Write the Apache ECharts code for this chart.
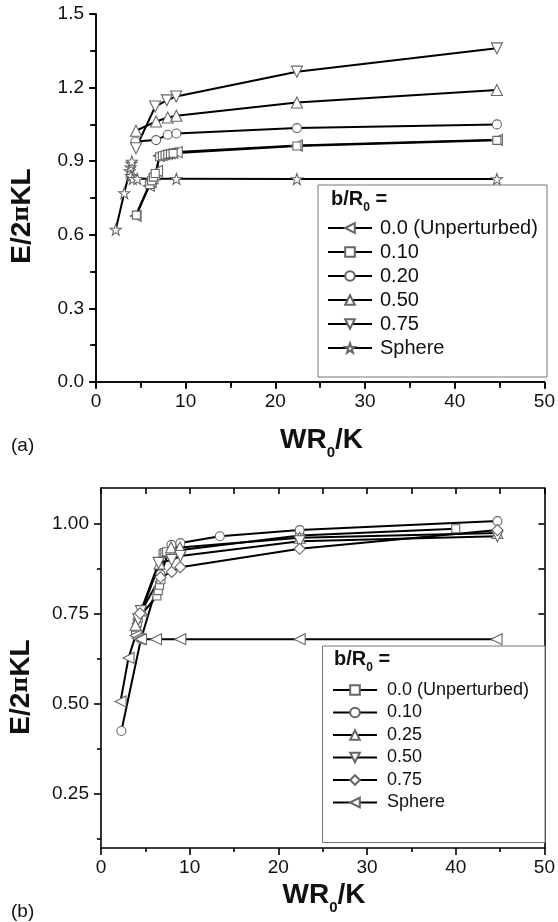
<!DOCTYPE html>
<html><head><meta charset="utf-8">
<script src="https://cdn.jsdelivr.net/npm/echarts@6/dist/echarts.min.js"></script>
<style>html,body{margin:0;padding:0;background:#fff}#c{width:558px;height:922px}</style>
</head><body><div id="c"></div>
<script>
// ---------- Panel (a) data: [WR0/K, E/2piKL] ----------
var aUnperturbed = [[4.42,0.677],[5.9,0.800],[6.1,0.815],[6.3,0.830],[6.5,0.845],[6.8,0.860],[7.0,0.922],[7.3,0.925],[7.6,0.928],[7.9,0.930],[8.2,0.932],[8.5,0.934],[9.0,0.937],[22.4,0.964],[44.7,0.987]];
var aB010 = [[4.5,0.680],[6.0,0.805],[6.2,0.820],[6.4,0.835],[6.6,0.850],[7.1,0.918],[7.4,0.922],[7.7,0.925],[8.0,0.928],[8.3,0.930],[8.6,0.932],[22.4,0.962],[44.7,0.985]];
var aB020 = [[4.39,0.980],[6.7,0.986],[8.0,1.008],[8.96,1.013],[22.4,1.035],[44.7,1.050]];
var aB050 = [[4.46,1.024],[6.7,1.062],[8.0,1.078],[8.96,1.085],[22.4,1.139],[44.7,1.190]];
var aB075 = [[4.46,0.953],[6.6,1.123],[7.9,1.148],[8.94,1.164],[22.4,1.265],[44.7,1.360]];
var aSphere = [[2.2,0.621],[3.15,0.770],[3.75,0.860],[3.85,0.875],[3.95,0.890],[4.0,0.899],[3.9,0.840],[4.1,0.828],[4.6,0.828],[8.96,0.828],[22.4,0.827],[44.7,0.827]];
var aLabels = ['0.0 (Unperturbed)','0.10','0.20','0.50','0.75','Sphere'];

// ---------- Panel (b) data ----------
var bUnperturbed = [[3.9,0.700],[4.0,0.713],[4.1,0.726],[4.2,0.738],[6.3,0.800],[6.45,0.815],[6.6,0.830],[6.75,0.845],[7.0,0.918],[7.2,0.921],[7.4,0.923],[22.4,0.968],[40.0,0.987]];
var bB010 = [[2.3,0.425],[4.5,0.680],[6.7,0.860],[7.95,0.942],[8.95,0.947],[13.4,0.966],[22.4,0.983],[44.7,1.008]];
var bB025 = [[3.9,0.720],[4.6,0.760],[6.6,0.890],[7.9,0.935],[8.9,0.935],[22.4,0.962],[44.7,0.975]];
var bB050 = [[4.2,0.735],[4.5,0.758],[6.5,0.892],[7.97,0.900],[8.94,0.911],[22.4,0.952],[44.7,0.966]];
var bB075 = [[4.4,0.752],[6.7,0.852],[7.97,0.867],[8.94,0.880],[22.4,0.931],[44.7,0.983]];
var bSphere = [[2.2,0.507],[3.1,0.628],[3.9,0.690],[4.1,0.683],[4.3,0.681],[4.5,0.680],[6.2,0.680],[8.94,0.680],[22.4,0.680],[44.6,0.680]];
var bLabels = ['0.0 (Unperturbed)','0.10','0.25','0.50','0.75','Sphere'];

// ---------- tick values ----------
var bYMajor = [0.25,0.50,0.75,1.00];
var bYMinor = [0.125,0.375,0.625,0.875];
var bYRight = [0.125,0.25,0.375,0.5,0.625,0.75,0.875,1.0];

var FONT = 'Liberation Sans';
var STAR = 'path://M0,-10 L2.35,-3.24 L9.51,-3.09 L3.8,1.24 L5.88,8.09 L0,4 L-5.88,8.09 L-3.8,1.24 L-9.51,-3.09 L-2.35,-3.24 Z';

var nameMap = {};
function mk(id, label, data, symbol, rot, size, xi, yi) {
  nameMap[id] = label;
  return {
    type: 'line', name: id, data: data, xAxisIndex: xi, yAxisIndex: yi,
    symbol: symbol, symbolRotate: rot, symbolSize: size, showAllSymbol: true,
    lineStyle: { color: '#000', width: 2 },
    itemStyle: { color: '#fff', borderColor: '#666', borderWidth: 1.1 },
    emphasis: { disabled: true }, animation: false
  };
}
var series = [
  mk('A0', aLabels[0], aUnperturbed, 'triangle', 90, 11, 0, 0),
  mk('A1', aLabels[1], aB010, 'rect', 0, 8, 0, 0),
  mk('A2', aLabels[2], aB020, 'circle', 0, 9, 0, 0),
  mk('A3', aLabels[3], aB050, 'triangle', 0, 11, 0, 0),
  mk('A4', aLabels[4], aB075, 'triangle', 180, 11, 0, 0),
  mk('A5', aLabels[5], aSphere, STAR, 0, 11, 0, 0),
  mk('B0', bLabels[0], bUnperturbed, 'rect', 0, 8, 2, 2),
  mk('B1', bLabels[1], bB010, 'circle', 0, 9, 2, 2),
  mk('B2', bLabels[2], bB025, 'triangle', 0, 11, 2, 2),
  mk('B3', bLabels[3], bB050, 'triangle', 180, 11, 2, 2),
  mk('B4', bLabels[4], bB075, 'diamond', 0, 11, 2, 2),
  mk('B5', bLabels[5], bSphere, 'triangle', 90, 11, 2, 2)
];

var lineS = { show: true, lineStyle: { color: '#000', width: 1.6 } };
var lab = { fontFamily: FONT, fontSize: 19, color: '#111' };
function xMain(grid) {
  return { type: 'value', gridIndex: grid, position: 'bottom', min: 0, max: 50, interval: 10,
    axisLine: lineS, splitLine: { show: false },
    axisTick: { show: true, inside: false, length: 7, lineStyle: { width: 1.6, color: '#000' } },
    minorTick: { show: true, splitNumber: 2, length: 4, lineStyle: { width: 1.6, color: '#000' } },
    axisLabel: Object.assign({ margin: 10 }, lab) };
}
function xTop(grid) {
  return { type: 'value', gridIndex: grid, position: 'top', min: 0, max: 50, interval: 5,
    axisLine: lineS, splitLine: { show: false }, axisLabel: { show: false },
    axisTick: { show: true, inside: true, length: 6, lineStyle: { width: 1.6, color: '#000' } } };
}
function sub(size, subSize, pad) {
  return { a: { fontFamily: FONT, fontSize: size, fontWeight: 'bold', fill: '#111' },
           s: { fontFamily: FONT, fontSize: subSize, fontWeight: 'bold', fill: '#111', padding: [pad,0,0,0] } };
}
function yTitle() {
  return { a: { fontFamily: FONT, fontSize: 28, fontWeight: 'bold', fill: '#111' },
           p: { fontFamily: 'DejaVu Serif', fontSize: 22, fontWeight: 'bold', fill: '#111' } };
}

var option = {
  backgroundColor: '#fff',
  animation: false,
  grid: [
    { left: 96, top: 14, width: 451, height: 368 },
    { left: 101, top: 488, width: 446, height: 360 }
  ],
  xAxis: [ xMain(0), xTop(0), xMain(1), xTop(1) ],
  yAxis: [
    { type: 'value', gridIndex: 0, position: 'left', min: 0, max: 1.5, interval: 0.3,
      axisLine: lineS, splitLine: { show: false },
      axisTick: { show: true, length: 7, lineStyle: { width: 1.6, color: '#000' } },
      minorTick: { show: true, splitNumber: 2, length: 4, lineStyle: { width: 1.6, color: '#000' } },
      axisLabel: Object.assign({ margin: 12, formatter: function (v) { return v.toFixed(1); } }, lab) },
    { type: 'value', gridIndex: 0, position: 'right', min: 0, max: 1.5, interval: 0.15,
      axisLine: lineS, splitLine: { show: false }, axisLabel: { show: false },
      axisTick: { show: true, inside: true, length: 6, lineStyle: { width: 1.6, color: '#000' } } },
    { type: 'value', gridIndex: 1, position: 'left', min: 0.1, max: 1.1,
      axisLine: lineS, splitLine: { show: false },
      axisTick: { show: true, length: 7, customValues: bYMajor, lineStyle: { width: 1.6, color: '#000' } },
      axisLabel: Object.assign({ margin: 12, customValues: bYMajor, formatter: function (v) { return v.toFixed(2); } }, lab) },
    { type: 'value', gridIndex: 1, position: 'left', min: 0.1, max: 1.1,
      axisLine: { show: false }, splitLine: { show: false }, axisLabel: { show: false },
      axisTick: { show: true, length: 4, customValues: bYMinor, lineStyle: { width: 1.6, color: '#000' } } },
    { type: 'value', gridIndex: 1, position: 'right', min: 0.1, max: 1.1,
      axisLine: lineS, splitLine: { show: false }, axisLabel: { show: false },
      axisTick: { show: true, inside: true, length: 6, customValues: bYRight, lineStyle: { width: 1.6, color: '#000' } } }
  ],
  legend: [
    { data: ['A0','A1','A2','A3','A4','A5'], orient: 'vertical', left: 327, top: 218, padding: 0,
      itemWidth: 44, itemHeight: 12, itemGap: 4, selectedMode: false, z: 10,
      formatter: function (n) { return nameMap[n]; },
      textStyle: { fontFamily: FONT, fontSize: 20, color: '#111', lineHeight: 20, padding: [0,0,0,3] } },
    { data: ['B0','B1','B2','B3','B4','B5'], orient: 'vertical', left: 332, top: 680, padding: 0,
      itemWidth: 44, itemHeight: 12, itemGap: 2.5, selectedMode: false, z: 10,
      formatter: function (n) { return nameMap[n]; },
      textStyle: { fontFamily: FONT, fontSize: 18, color: '#111', lineHeight: 20, padding: [0,0,0,5] } }
  ],
  graphic: [
    { type: 'rect', z: 5, shape: { x: 318, y: 185, width: 229, height: 192 }, style: { fill: '#fff', stroke: '#777', lineWidth: 1 } },
    { type: 'rect', z: 5, shape: { x: 322.5, y: 646, width: 222.5, height: 196.5 }, style: { fill: '#fff', stroke: '#777', lineWidth: 1 } },
    { type: 'text', z: 20, x: 331, y: 199, style: { text: '{a|b/R}{s|0}{a| =}', verticalAlign: 'middle', align: 'left', rich: sub(20, 12, 17) } },
    { type: 'text', z: 20, x: 334, y: 659, style: { text: '{a|b/R}{s|0}{a| =}', verticalAlign: 'middle', align: 'left', rich: sub(20, 12, 17) } },
    { type: 'text', z: 20, x: 321.5, y: 440, style: { text: '{a|WR}{s|0}{a|/K}', align: 'center', verticalAlign: 'middle', rich: sub(28, 15, 26) } },
    { type: 'text', z: 20, x: 324, y: 895, style: { text: '{a|WR}{s|0}{a|/K}', align: 'center', verticalAlign: 'middle', rich: sub(28, 15, 26) } },
    { type: 'text', z: 20, x: 22.5, y: 216, rotation: Math.PI / 2, style: { text: '{a|E/2}{p|π}{a|KL}', align: 'center', verticalAlign: 'middle', rich: yTitle() } },
    { type: 'text', z: 20, x: 21.5, y: 687, rotation: Math.PI / 2, style: { text: '{a|E/2}{p|π}{a|KL}', align: 'center', verticalAlign: 'middle', rich: yTitle() } },
    { type: 'text', z: 20, x: 11, y: 446, style: { text: '(a)', fontFamily: FONT, fontSize: 19, fill: '#111', verticalAlign: 'middle' } },
    { type: 'text', z: 20, x: 11, y: 912, style: { text: '(b)', fontFamily: FONT, fontSize: 19, fill: '#111', verticalAlign: 'middle' } }
  ],
  series: series
};
var chart = echarts.init(document.getElementById('c'), null, { renderer: 'canvas' });
chart.setOption(option);
</script>
</body></html>
